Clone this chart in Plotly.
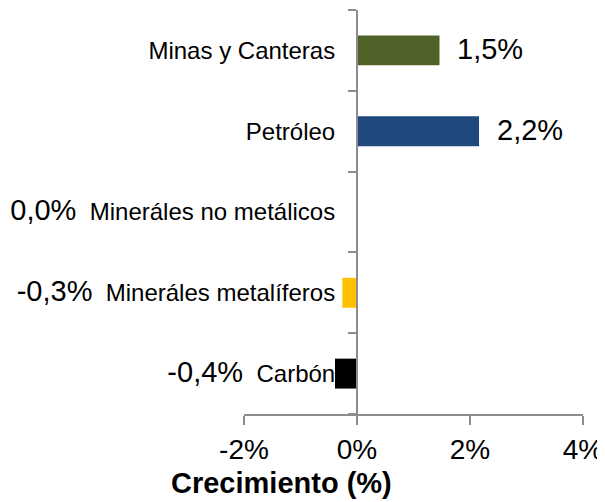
import plotly.graph_objects as go

# ---- data ----
categories = ["Carbón", "Mineráles metalíferos", "Mineráles no metálicos", "Petróleo", "Minas y Canteras"]
growth = [-0.39, -0.26, 0.0, 2.16, 1.46]
value_labels = ["-0,4%", "-0,3%", "0,0%", "2,2%", "1,5%"]
bar_colors = ["#000000", "#FFC000", "#7F7F7F", "#1F497D", "#4F6228"]
x_ticks = [-2, 0, 2, 4]
x_tick_labels = ["-2%", "0%", "2%", "4%"]
axis_title = "Crecimiento (%)"

FONT = "Liberation Sans, Arial, sans-serif"
AXIS_GRAY = "#8c8c8c"
NB = "\u00a0"

# category tick labels; for non-positive values the data label sits to the left of the category name
tick_texts = []
for cat, v, lab in zip(categories, growth, value_labels):
    if v <= 0:
        tick_texts.append(f'<span style="font-size:29px">{lab}</span>{NB*2}{cat}')
    else:
        tick_texts.append(cat)

fig = go.Figure(
    go.Bar(
        x=growth,
        y=categories,
        orientation="h",
        marker=dict(color=bar_colors, line=dict(width=0)),
        width=0.37,
        hoverinfo="skip",
    )
)

annotations = []
for cat, v, lab in zip(categories, growth, value_labels):
    if v > 0:
        annotations.append(dict(
            x=v, y=cat, xref="x", yref="y", text=lab, showarrow=False,
            xanchor="left", yanchor="middle", xshift=16, yshift=1,
            font=dict(family=FONT, size=29, color="black"),
        ))

annotations.append(dict(
    x=0.112, y=-0.171, xref="paper", yref="paper", text=f"<b>{axis_title}</b>",
    showarrow=False, xanchor="center", yanchor="middle",
    font=dict(family=FONT, size=29, color="black"),
))

fig.update_layout(
    width=605, height=494, autosize=False,
    margin=dict(l=236, r=30, t=2, b=88, pad=0),
    paper_bgcolor="white", plot_bgcolor="white",
    showlegend=False,
    font=dict(family=FONT, color="black"),
    annotations=annotations,
    xaxis=dict(
        range=[-2, 4], domain=[0, 1],
        tickmode="array", tickvals=x_ticks, ticktext=x_tick_labels,
        ticks="outside", ticklen=9, tickwidth=2, tickcolor=AXIS_GRAY,
        showline=True, linecolor=AXIS_GRAY, linewidth=2,
        showgrid=False, zeroline=False,
        ticklabeloverflow="allow",
        tickfont=dict(family=FONT, size=28, color="black"),
        fixedrange=True,
    ),
    yaxis=dict(
        type="category", categoryorder="array", categoryarray=categories,
        anchor="free", position=1/3,
        tickmode="array", tickvals=categories, ticktext=tick_texts,
        tickson="boundaries",
        ticks="outside", ticklen=8, tickwidth=2, tickcolor=AXIS_GRAY,
        showline=True, linecolor=AXIS_GRAY, linewidth=2,
        showgrid=False, zeroline=False,
        ticklabelstandoff=16,
        tickfont=dict(family=FONT, size=24, color="black"),
        fixedrange=True,
    ),
)

fig.write_html("out.html")
